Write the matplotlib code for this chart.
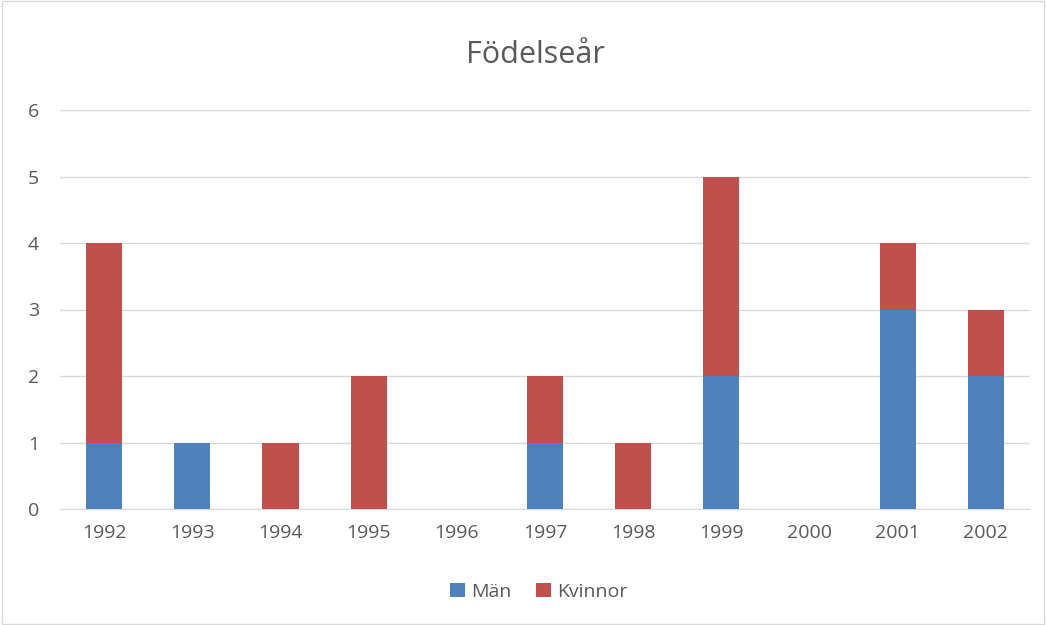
import matplotlib.pyplot as plt
import numpy as np

# Data
years = ['1992', '1993', '1994', '1995', '1996', '1997', '1998', '1999', '2000', '2001', '2002']
man = [1, 1, 0, 0, 0, 1, 0, 2, 0, 3, 2]
kvinnor = [3, 0, 1, 2, 0, 1, 1, 3, 0, 1, 1]

blue = '#4F81BD'
red = '#C0504D'
txt = '#595959'

plt.rcParams['font.family'] = ['Open Sans', 'DejaVu Sans']

fig = plt.figure(figsize=(10.46, 6.25), dpi=100)
ax = fig.add_axes([60 / 1046, 1 - 509 / 625, 970 / 1046, 399 / 625])

x = np.arange(len(years))
w = 0.41
ax.bar(x, man, w, color=blue, label='Män', zorder=3)
ax.bar(x, kvinnor, w, bottom=man, color=red, label='Kvinnor', zorder=3)

ax.set_xlim(-0.5, len(years) - 0.5)
ax.set_ylim(0, 6)
ax.set_yticks(range(7))
ax.set_xticks(x)
ax.set_xticklabels(years)
ax.grid(axis='y', color='#D9D9D9', linewidth=1, zorder=0)
for s in ['top', 'right', 'left']:
    ax.spines[s].set_visible(False)
ax.spines['bottom'].set_color('#D9D9D9')
ax.tick_params(axis='both', length=0, labelsize=14, colors=txt, pad=11)
ax.tick_params(axis='y', pad=15)

fig.text(0.512, 1 - 55 / 625, 'Födelseår', ha='center', va='center', fontsize=22, color=txt)
fig.legend(loc='center', bbox_to_anchor=(0.515, 1 - 592 / 625), ncol=2, frameon=False,
           fontsize=14, labelcolor=txt, handlelength=0.75, handleheight=0.75,
           handletextpad=0.3, columnspacing=1.3)

# chart border
fig.patches.append(plt.Rectangle((0.002, 0.002), 0.996, 0.996, transform=fig.transFigure,
                                 fill=False, edgecolor='#D9D9D9', linewidth=1))

plt.savefig('out.png', dpi=100)
